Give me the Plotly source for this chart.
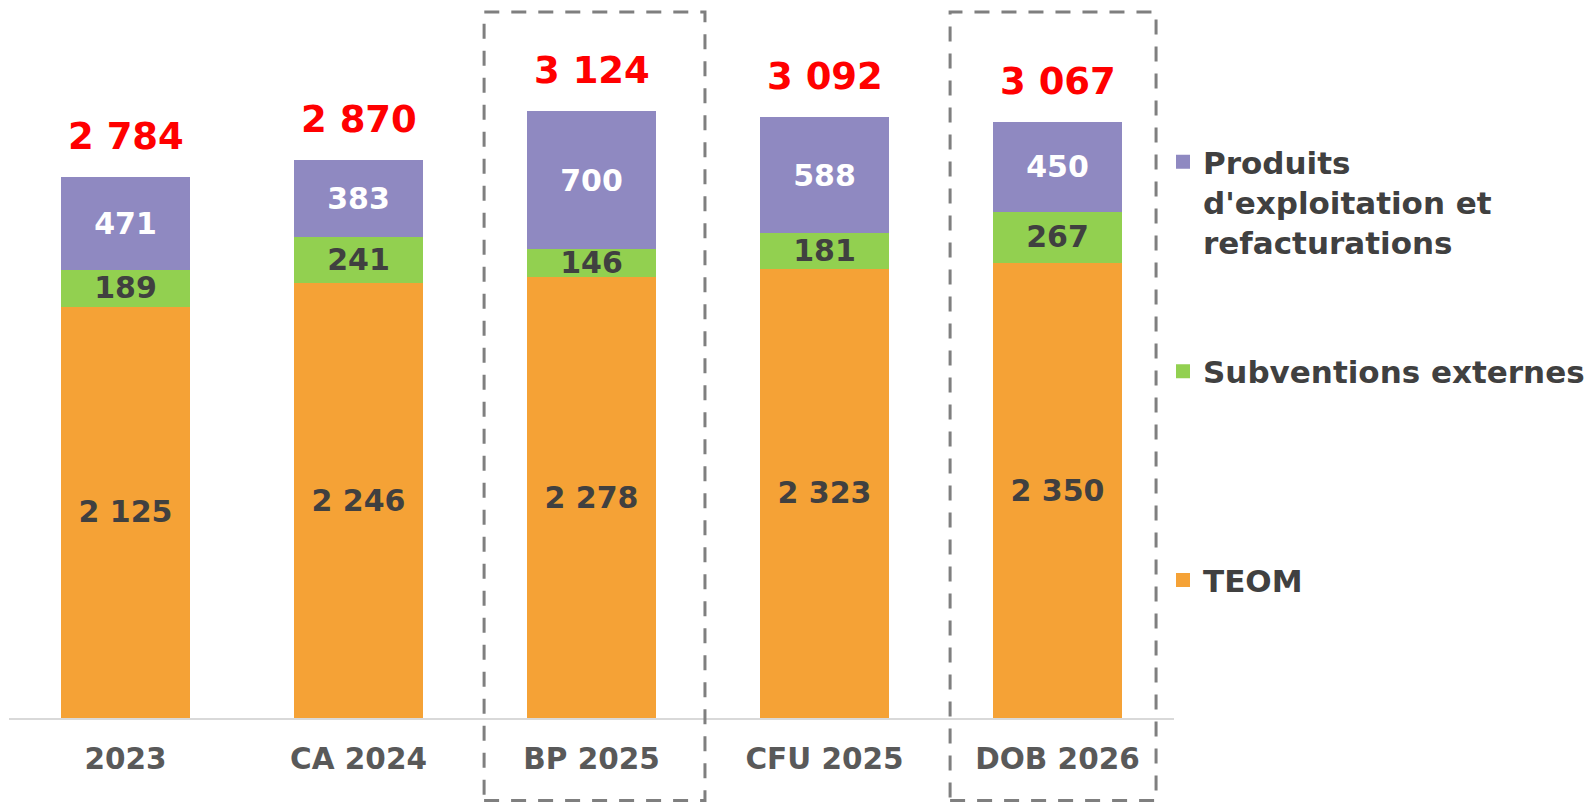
import plotly.graph_objects as go

categories = ["2023", "CA 2024", "BP 2025", "CFU 2025", "DOB 2026"]
teom = [2125, 2246, 2278, 2323, 2350]
subventions = [189, 241, 146, 181, 267]
produits = [471, 383, 700, 588, 450]
totals = [2784, 2870, 3124, 3092, 3067]
highlighted = ["BP 2025", "DOB 2026"]

C_TEOM = "#F5A236"
C_SUB = "#92D050"
C_PROD = "#8F89C1"
FONT = "DejaVu Sans"

# page body has an 8px margin: work in figure coordinates (page - 8)
OFF = 8
W, H = 1596 - OFF, 803 - OFF
BASE = 717.6 - OFF          # axis baseline in figure px
ML = 9 - OFF
MR = W - (1174 - OFF)
MT = 0
PH = BASE - MT
MB = H - BASE

fig = go.Figure()
series = [
    (teom, "TEOM", C_TEOM, "#404040", "legend3"),
    (subventions, "Subventions externes", C_SUB, "#404040", "legend2"),
    (produits, "Produits<br>d'exploitation et<br>refacturations", C_PROD, "#FFFFFF", "legend"),
]
for vals, name, col, tcol, leg in series:
    fig.add_trace(go.Bar(
        x=categories, y=vals, name=name,
        marker=dict(color=col, line=dict(color=col, width=2)),
        texttemplate="%{y:,.0f}", textposition="inside", insidetextanchor="middle",
        textangle=0, constraintext="none",
        textfont=dict(family=FONT, size=30, color=tcol, weight="bold"),
        legend=leg, hoverinfo="skip",
    ))

# totals above bars
for i, t in enumerate(totals):
    fig.add_annotation(
        x=i, y=t, xref="x", yref="y", text=f"{t:,}".replace(",", " "),
        showarrow=False, yanchor="middle", yshift=42,
        font=dict(family=FONT, size=37, color="#FF0000", weight="bold"),
    )

def py(page_px):
    return (BASE - (page_px - OFF)) / PH

# dashed highlight boxes
box_right = {"BP 2025": 0.487, "DOB 2026": 0.423}
for c in highlighted:
    i = categories.index(c)
    fig.add_shape(
        type="rect", xref="x", yref="paper",
        x0=i - 0.461, x1=i + box_right[c],
        y0=py(800), y1=py(12),
        line=dict(color="#7F7F7F", width=3, dash="15px,12px"),
        fillcolor="rgba(0,0,0,0)", layer="above",
    )

legend_left = (1163 - OFF - ML) / (W - ML - MR)
leg_common = dict(
    xanchor="left", yanchor="middle", x=legend_left,
    font=dict(family=FONT, size=31, color="#404040", weight="bold"),
    bgcolor="rgba(0,0,0,0)", borderwidth=0, valign="top",
)
fig.update_layout(
    width=W, height=H, autosize=False,
    margin=dict(l=ML, r=MR, t=MT, b=MB),
    barmode="stack", bargap=0.455,
    plot_bgcolor="white", paper_bgcolor="white",
    separators=", ",
    showlegend=True,
    legend=dict(y=py(202), **leg_common),
    legend2=dict(y=py(371.5), **leg_common),
    legend3=dict(y=py(580), **leg_common),
    xaxis=dict(
        type="category", categoryorder="array", categoryarray=categories,
        range=[-0.5, len(categories) - 0.5],
        showline=True, linecolor="#D9D9D9", linewidth=2, showgrid=False,
        ticks="", ticklabelstandoff=14,
        tickfont=dict(family=FONT, size=29.5, color="#595959", weight="bold"),
    ),
    yaxis=dict(visible=False, range=[0, PH / 0.1938], showgrid=False),
)

fig.write_html("out.html")
